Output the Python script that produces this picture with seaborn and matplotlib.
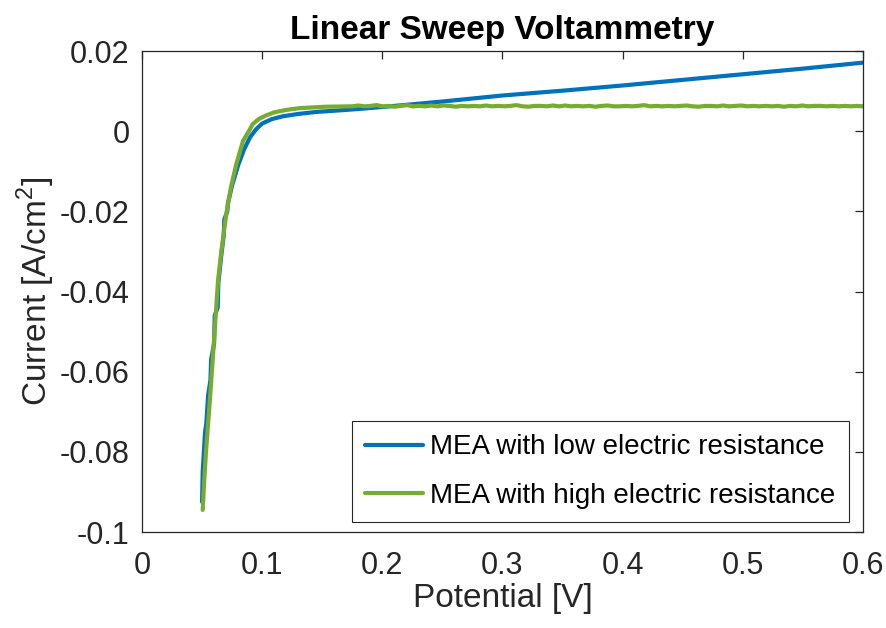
import numpy as np
import pandas as pd
import matplotlib
matplotlib.use("Agg")
import matplotlib.pyplot as plt
import seaborn as sns

# ---------------- data ----------------
title = "Linear Sweep Voltammetry"
x_label = "Potential [V]"
y_label = "Current [A/cm$^2$]"
series_names = ["MEA with low electric resistance", "MEA with high electric resistance"]

x_ticks = [0, 0.1, 0.2, 0.3, 0.4, 0.5, 0.6]
x_tick_labels = ["0", "0.1", "0.2", "0.3", "0.4", "0.5", "0.6"]
y_ticks = [-0.1, -0.08, -0.06, -0.04, -0.02, 0, 0.02]
y_tick_labels = ["-0.1", "-0.08", "-0.06", "-0.04", "-0.02", "0", "0.02"]

low_x = [0.0500, 0.0505, 0.0515, 0.0525, 0.0535, 0.0550, 0.0570, 0.0575, 0.0600,
         0.0605, 0.0630, 0.0635, 0.0660, 0.0680, 0.0685, 0.0710, 0.0715, 0.0750,
         0.0800, 0.0850, 0.0900, 0.0950, 0.1000, 0.1080, 0.1170, 0.1300, 0.1450,
         0.1650, 0.1830, 0.2100, 0.2500, 0.3000, 0.3500, 0.4000, 0.4500, 0.5000,
         0.5500, 0.6000]
low_y = [-0.0925, -0.0850, -0.0800, -0.0750, -0.0730, -0.0660, -0.0620, -0.0570, -0.0530,
         -0.0460, -0.0440, -0.0380, -0.0310, -0.0260, -0.0220, -0.0200, -0.0180, -0.0135,
         -0.0085, -0.0045, -0.0015, 0.0005, 0.0019, 0.0030, 0.0037, 0.0043, 0.0048,
         0.0052, 0.0056, 0.0063, 0.0074, 0.0089, 0.0101, 0.0114, 0.0128, 0.0142,
         0.0156, 0.0171]

high_knee_x = [0.0505, 0.0520, 0.0536, 0.0560, 0.0577, 0.0605, 0.0633, 0.0660, 0.0680,
               0.0702, 0.0740, 0.0784, 0.0840, 0.0895, 0.0920, 0.0970, 0.1030, 0.1100,
               0.1200, 0.1300, 0.1400, 0.1530]
high_knee_y = [-0.0945, -0.0860, -0.0785, -0.0690, -0.0620, -0.0496, -0.0372, -0.0300, -0.0255,
               -0.0206, -0.0140, -0.0083, -0.0025, 0.0003, 0.0017, 0.0030, 0.0039, 0.0047,
               0.0053, 0.0057, 0.0059, 0.0061]
high_plateau_y = [0.0062, 0.0064, 0.0062, 0.0063, 0.0065, 0.0062, 0.0063, 0.0061, 0.0063, 0.0065,
                  0.0062, 0.0063, 0.0062, 0.0064, 0.0062, 0.0064, 0.0063, 0.0061, 0.0063, 0.0062,
                  0.0063, 0.0062, 0.0064, 0.0062, 0.0063, 0.0062, 0.0063, 0.0065, 0.0062, 0.0061,
                  0.0063, 0.0063, 0.0062, 0.0064, 0.0062, 0.0064, 0.0062, 0.0063, 0.0062, 0.0063,
                  0.0061, 0.0063, 0.0064, 0.0062, 0.0062, 0.0063, 0.0062, 0.0063, 0.0065, 0.0062,
                  0.0063, 0.0062, 0.0063, 0.0062, 0.0063, 0.0064, 0.0062, 0.0061, 0.0063, 0.0063,
                  0.0062, 0.0064, 0.0062, 0.0063, 0.0064, 0.0062, 0.0063, 0.0062, 0.0063, 0.0062,
                  0.0063, 0.0061, 0.0063, 0.0062, 0.0064, 0.0062, 0.0063, 0.0063, 0.0062, 0.0063,
                  0.0062, 0.0063, 0.0062, 0.0063, 0.0062]
high_plateau_x = list(np.linspace(0.175, 0.6, len(high_plateau_y)))

colors = ["#0072BD", "#77AC30"]

# ---------------- figure ----------------
sns.set_style("white")
plt.rcParams["font.family"] = ["Liberation Sans", "DejaVu Sans"]
plt.rcParams["axes.unicode_minus"] = False
plt.rcParams["mathtext.fontset"] = "custom"
plt.rcParams["mathtext.rm"] = "Liberation Sans"

df = pd.concat([
    pd.DataFrame({"x": low_x, "y": low_y, "s": series_names[0]}),
    pd.DataFrame({"x": high_knee_x + high_plateau_x,
                  "y": high_knee_y + high_plateau_y, "s": series_names[1]}),
], ignore_index=True)

fig = plt.figure(figsize=(8.87, 6.28), dpi=100)
ax = fig.add_axes([142 / 887, 1 - 532 / 628, (863 - 142) / 887, (532 - 51) / 628])

sns.lineplot(data=df, x="x", y="y", hue="s", palette=colors, sort=False,
             estimator=None, linewidth=3.0, ax=ax)

ax.set_xlim(0, 0.6)
ax.set_ylim(-0.1, 0.02)
ax.set_xticks(x_ticks)
ax.set_xticklabels(x_tick_labels)
ax.set_yticks(y_ticks)
ax.set_yticklabels(y_tick_labels)

axc = "#262626"
for sp in ax.spines.values():
    sp.set_visible(True)
    sp.set_color(axc)
    sp.set_linewidth(0.9)
ax.tick_params(direction="in", length=6, width=0.9, colors=axc, labelsize=22,
               top=True, right=True, labelcolor=axc)
ax.tick_params(axis="x", pad=14)
ax.tick_params(axis="y", pad=9)

ax.set_xlabel(x_label, fontsize=24, color=axc, labelpad=1)
ax.set_ylabel(y_label, fontsize=24, color=axc, labelpad=2)
ax.set_title(title, fontsize=24, fontweight="bold", color="black", pad=9)

leg = ax.legend(loc="lower right", bbox_to_anchor=(0.9806, 0.021), borderaxespad=0,
                fontsize=20, frameon=True, fancybox=False, framealpha=1,
                edgecolor=axc, handlelength=2.1, handletextpad=0.25,
                labelspacing=0.8, borderpad=0.48, title=None)
leg.get_frame().set_linewidth(0.8)
for t in leg.get_texts():
    t.set_color("black")

fig.savefig("out.png", dpi=100)
